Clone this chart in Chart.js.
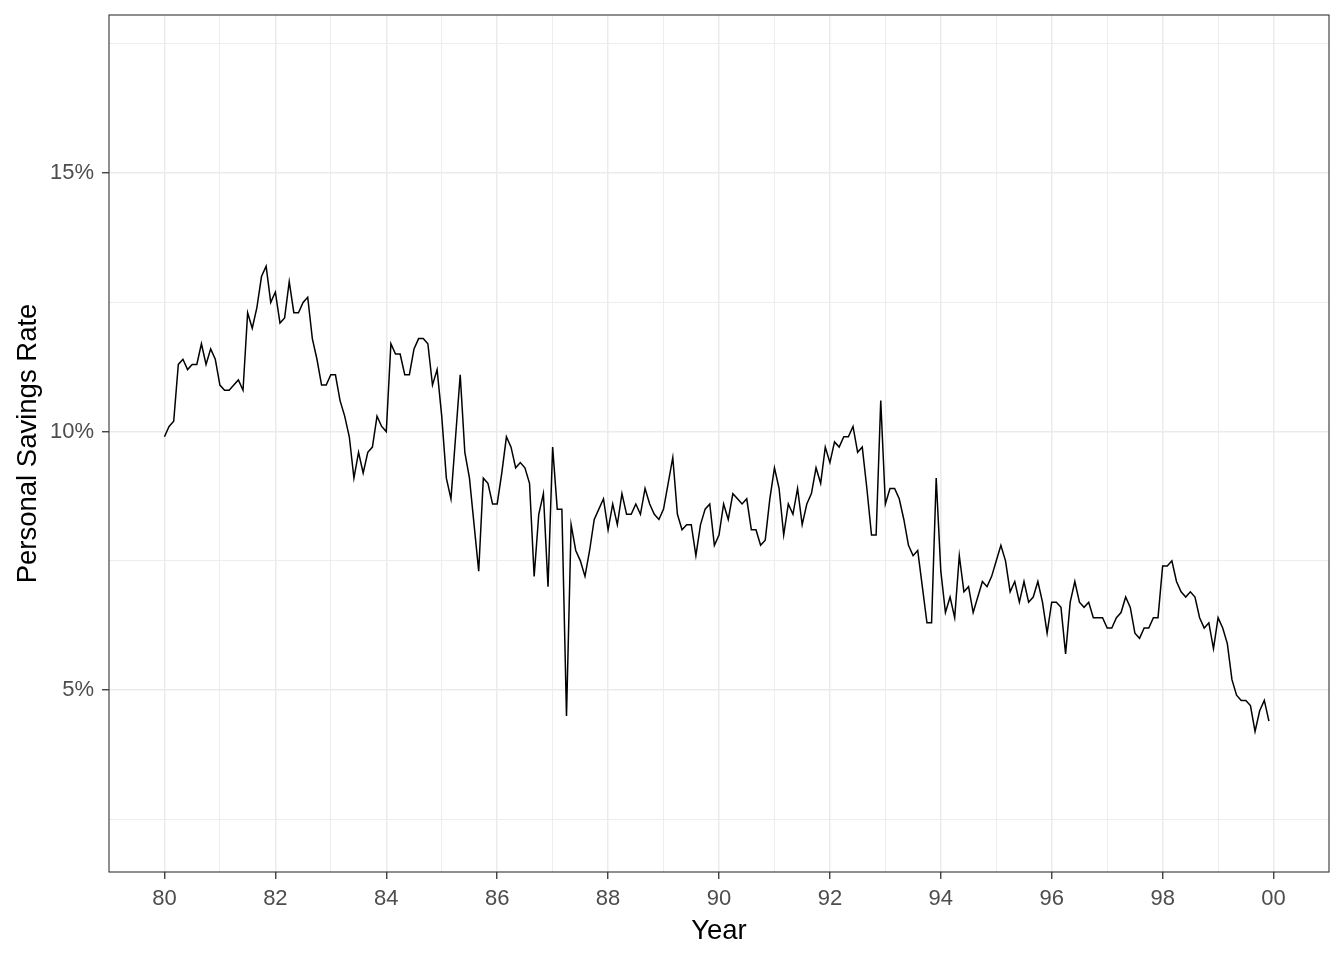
<!DOCTYPE html>
<html>
<head>
<meta charset="utf-8">
<script src="https://cdn.jsdelivr.net/npm/chart.js@4/dist/chart.umd.min.js"></script>
<style>
  html, body { margin: 0; padding: 0; background: #ffffff; }
  canvas { display: block; }
</style>
</head>
<body>
<canvas id="savingsChart" width="1344" height="960"></canvas>
<script>
// monthly personal savings rate (%), Jan 1980 .. Dec 1999
var startYear = 80;
var savingsRate = [
  9.9, 10.1, 10.2, 11.3, 11.4, 11.2, 11.3, 11.3, 11.7, 11.3, 11.6, 11.4,   // 1980
  10.9, 10.8, 10.8, 10.9, 11.0, 10.8, 12.3, 12.0, 12.4, 13.0, 13.2, 12.5,  // 1981
  12.7, 12.1, 12.2, 12.9, 12.3, 12.3, 12.5, 12.6, 11.8, 11.4, 10.9, 10.9,  // 1982
  11.1, 11.1, 10.6, 10.3, 9.9, 9.1, 9.6, 9.2, 9.6, 9.7, 10.3, 10.1,        // 1983
  10.0, 11.7, 11.5, 11.5, 11.1, 11.1, 11.6, 11.8, 11.8, 11.7, 10.9, 11.2,  // 1984
  10.3, 9.1, 8.7, 9.9, 11.1, 9.6, 9.1, 8.2, 7.3, 9.1, 9.0, 8.6,            // 1985
  8.6, 9.2, 9.9, 9.7, 9.3, 9.4, 9.3, 9.0, 7.2, 8.4, 8.8, 7.0,              // 1986
  9.7, 8.5, 8.5, 4.5, 8.2, 7.7, 7.5, 7.2, 7.7, 8.3, 8.5, 8.7,              // 1987
  8.1, 8.6, 8.2, 8.8, 8.4, 8.4, 8.6, 8.4, 8.9, 8.6, 8.4, 8.3,              // 1988
  8.5, 9.0, 9.5, 8.4, 8.1, 8.2, 8.2, 7.6, 8.2, 8.5, 8.6, 7.8,              // 1989
  8.0, 8.6, 8.3, 8.8, 8.7, 8.6, 8.7, 8.1, 8.1, 7.8, 7.9, 8.7,              // 1990
  9.3, 8.9, 8.0, 8.6, 8.4, 8.9, 8.2, 8.6, 8.8, 9.3, 9.0, 9.7,              // 1991
  9.4, 9.8, 9.7, 9.9, 9.9, 10.1, 9.6, 9.7, 8.9, 8.0, 8.0, 10.6,            // 1992
  8.6, 8.9, 8.9, 8.7, 8.3, 7.8, 7.6, 7.7, 7.0, 6.3, 6.3, 9.1,              // 1993
  7.3, 6.5, 6.8, 6.4, 7.6, 6.9, 7.0, 6.5, 6.8, 7.1, 7.0, 7.2,              // 1994
  7.5, 7.8, 7.5, 6.9, 7.1, 6.7, 7.1, 6.7, 6.8, 7.1, 6.7, 6.1,              // 1995
  6.7, 6.7, 6.6, 5.7, 6.7, 7.1, 6.7, 6.6, 6.7, 6.4, 6.4, 6.4,              // 1996
  6.2, 6.2, 6.4, 6.5, 6.8, 6.6, 6.1, 6.0, 6.2, 6.2, 6.4, 6.4,              // 1997
  7.4, 7.4, 7.5, 7.1, 6.9, 6.8, 6.9, 6.8, 6.4, 6.2, 6.3, 5.8,              // 1998
  6.4, 6.2, 5.9, 5.2, 4.9, 4.8, 4.8, 4.7, 4.2, 4.6, 4.8, 4.4               // 1999
];

var xMajor = [80, 82, 84, 86, 88, 90, 92, 94, 96, 98, 100];
var xMajorLabels = ["80", "82", "84", "86", "88", "90", "92", "94", "96", "98", "00"];
var xMinor = [81, 83, 85, 87, 89, 91, 93, 95, 97, 99];
var yMajor = [5, 10, 15];
var yMajorLabels = ["5%", "10%", "15%"];
var yMinor = [2.5, 7.5, 12.5, 17.5];

var xLimits = [79.0, 101.0];
var yLimits = [1.48, 18.06];

var points = savingsRate.map(function (v, i) {
  return { x: startYear + i / 12, y: v };
});

var gridColor = "#EBEBEB";
var inkColor = "#333333";
var tickTextColor = "#4D4D4D";
var fontFamily = "'Liberation Sans', Arial, sans-serif";

function majorOf(list, value) {
  return list.some(function (m) { return Math.abs(m - value) < 1e-6; });
}

function setTicks(major, minor) {
  return function (scale) {
    scale.ticks = major.concat(minor).sort(function (a, b) { return a - b; })
      .map(function (v) { return { value: v }; });
  };
}

var panelBorder = {
  id: "panelBorder",
  afterDraw: function (chart) {
    var a = chart.chartArea, ctx = chart.ctx;
    ctx.save();
    ctx.strokeStyle = inkColor;
    ctx.lineWidth = 1.1;
    ctx.strokeRect(a.left, a.top, a.right - a.left, a.bottom - a.top);
    ctx.restore();
  }
};

var savingsChart = new Chart(document.getElementById("savingsChart"), {
  type: "line",
  data: {
    datasets: [{
      label: "Personal Savings Rate",
      data: points,
      borderColor: "#000000",
      borderWidth: 1.5,
      pointRadius: 0,
      fill: false,
      tension: 0
    }]
  },
  options: {
    responsive: false,
    animation: false,
    devicePixelRatio: 1,
    layout: { padding: { top: 15, right: 15, left: 0, bottom: 0 } },
    plugins: {
      legend: { display: false },
      tooltip: { enabled: false }
    },
    scales: {
      x: {
        type: "linear",
        min: xLimits[0],
        max: xLimits[1],
        afterBuildTicks: setTicks(xMajor, xMinor),
        afterFit: function (scale) {
          scale.height = 88;
          scale.paddingLeft = 0;
          scale.paddingRight = 0;
        },
        border: { display: false },
        grid: {
          color: gridColor,
          lineWidth: function (c) { return majorOf(xMajor, c.tick.value) ? 1.5 : 0.9; },
          tickLength: 7,
          tickColor: function (c) { return majorOf(xMajor, c.tick.value) ? inkColor : "rgba(0,0,0,0)"; },
          tickWidth: 1.3
        },
        ticks: {
          autoSkip: false,
          maxRotation: 0,
          padding: 7,
          color: tickTextColor,
          font: { family: fontFamily, size: 22 },
          callback: function (value) {
            var i = xMajor.indexOf(Math.round(value));
            return (i >= 0 && Math.abs(value - xMajor[i]) < 1e-6) ? xMajorLabels[i] : "";
          }
        },
        title: {
          display: true,
          text: "Year",
          color: "#000000",
          font: { family: fontFamily, size: 27.5 },
          padding: { top: 0, bottom: 12 }
        }
      },
      y: {
        type: "linear",
        min: yLimits[0],
        max: yLimits[1],
        afterBuildTicks: setTicks(yMajor, yMinor),
        afterFit: function (scale) {
          scale.width = 109;
          scale.paddingTop = 0;
          scale.paddingBottom = 0;
        },
        border: { display: false },
        grid: {
          color: gridColor,
          lineWidth: function (c) { return majorOf(yMajor, c.tick.value) ? 1.5 : 0.9; },
          tickLength: 7,
          tickColor: function (c) { return majorOf(yMajor, c.tick.value) ? inkColor : "rgba(0,0,0,0)"; },
          tickWidth: 1.3
        },
        ticks: {
          autoSkip: false,
          padding: 8,
          color: tickTextColor,
          font: { family: fontFamily, size: 22 },
          callback: function (value) {
            for (var i = 0; i < yMajor.length; i++) {
              if (Math.abs(value - yMajor[i]) < 1e-6) return yMajorLabels[i];
            }
            return "";
          }
        },
        title: {
          display: true,
          text: "Personal Savings Rate",
          color: "#000000",
          font: { family: fontFamily, size: 27.5 },
          padding: { top: 11.5, bottom: 0 }
        }
      }
    }
  },
  plugins: [panelBorder]
});
</script>
</body>
</html>
